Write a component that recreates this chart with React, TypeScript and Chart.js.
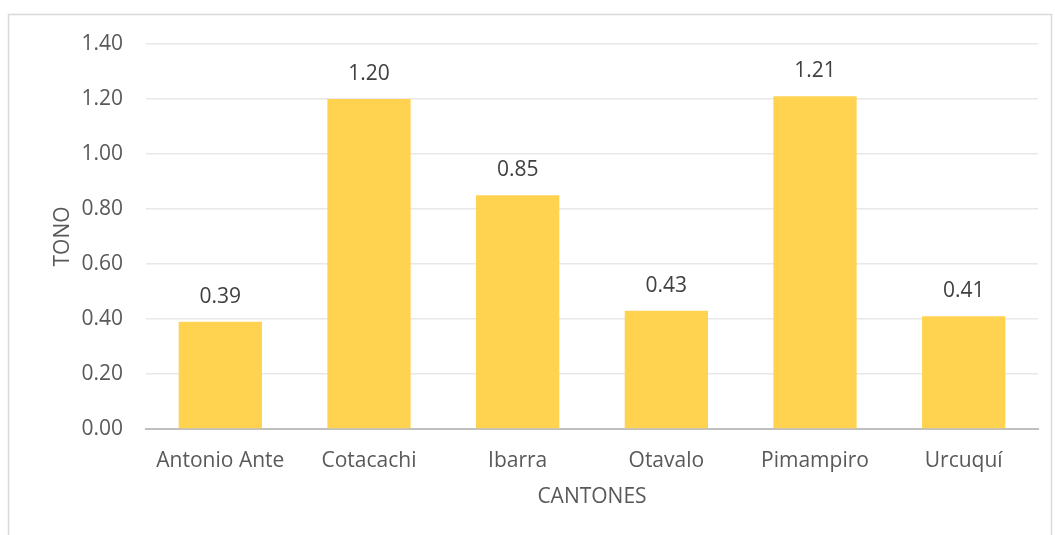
import React, { useEffect, useRef } from "react";
import { Chart, registerables } from "chart.js";

Chart.register(...registerables);

const cantones = ["Antonio Ante", "Cotacachi", "Ibarra", "Otavalo", "Pimampiro", "Urcuquí"];
const tono = [0.39, 1.2, 0.85, 0.43, 1.21, 0.41];
const yTitle = "TONO";
const xTitle = "CANTONES";

const FONT = "'Open Sans', 'Noto Sans', sans-serif";
const TEXT = "#595959";
const SIZE = 21;

const frame = {
  id: "frame",
  beforeDraw(chart: any) {
    const ctx = chart.ctx;
    ctx.save();
    ctx.fillStyle = "#ffffff";
    ctx.fillRect(0, 0, chart.width, chart.height);
    ctx.strokeStyle = "#d9d9d9";
    ctx.lineWidth = 1.5;
    ctx.strokeRect(8.5, 14.5, 1043, 540);
    ctx.restore();
  },
};

const valueLabels = {
  id: "valueLabels",
  afterDatasetsDraw(chart: any) {
    const ctx = chart.ctx;
    const meta = chart.getDatasetMeta(0);
    ctx.save();
    ctx.font = `${SIZE}px ${FONT}`;
    ctx.fillStyle = "#404040";
    ctx.textAlign = "center";
    ctx.textBaseline = "middle";
    meta.data.forEach((bar: any, i: number) => {
      ctx.fillText(tono[i].toFixed(2), bar.x, bar.y - 25);
    });
    ctx.restore();
  },
};

export default function App() {
  const ref = useRef<HTMLCanvasElement>(null);
  useEffect(() => {
    if (!ref.current) return;
    const chart = new Chart(ref.current, {
      type: "bar",
      data: {
        labels: cantones,
        datasets: [
          {
            data: tono,
            backgroundColor: "#FFD34F",
            categoryPercentage: 1,
            barPercentage: 0.56,
          },
        ],
      },
      options: {
        animation: false,
        responsive: false,
        layout: { padding: { top: 44, right: 17, left: 0, bottom: 0 } },
        plugins: { legend: { display: false }, tooltip: { enabled: false } },
        scales: {
          x: {
            grid: { display: false, drawTicks: false },
            border: { color: "#bfbfbf", width: 2 },
            ticks: { color: TEXT, font: { family: FONT, size: SIZE }, padding: 19 },
            title: {
              display: true,
              text: xTitle,
              color: TEXT,
              font: { family: FONT, size: SIZE },
              padding: { top: 4, bottom: 25 },
            },
            afterFit(scale: any) {
              scale.height = 106;
            },
          },
          y: {
            min: 0,
            max: 1.4,
            grid: { color: "#e8e8e8", lineWidth: 1.5, drawTicks: false },
            border: { display: false },
            ticks: {
              stepSize: 0.2,
              color: TEXT,
              padding: 23,
              font: { family: FONT, size: SIZE },
              callback: (v: any) => Number(v).toFixed(2),
            },
            title: {
              display: true,
              text: yTitle,
              color: TEXT,
              font: { family: FONT, size: SIZE },
              padding: { top: 50, bottom: 0 },
            },
            afterFit(scale: any) {
              scale.width = 146;
            },
          },
        },
      },
      plugins: [frame, valueLabels],
    });
    return () => chart.destroy();
  }, []);
  return (
    <div style={{ position: "absolute", left: 0, top: 0, width: 1055, height: 535 }}>
      <canvas ref={ref} width={1055} height={535} />
    </div>
  );
}
